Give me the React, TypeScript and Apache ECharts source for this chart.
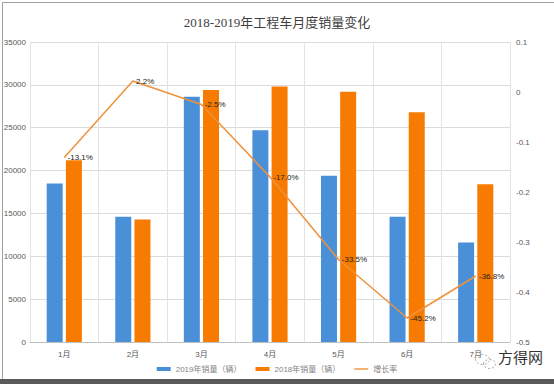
import React, { useEffect, useRef } from "react";
import * as echarts from "echarts";

const categories = ["1月", "2月", "3月", "4月", "5月", "6月", "7月"];
const sales2019 = [18500, 14600, 28600, 24700, 19400, 14600, 11600];
const sales2018 = [21200, 14300, 29400, 29800, 29200, 26800, 18400];
const growth = [-0.131, 0.022, -0.025, -0.17, -0.335, -0.452, -0.368];
const seriesNames = ["2019年销量（辆）", "2018年销量（辆）", "增长率"];
const titleText = "2018-2019年工程车月度销量变化";

export default function App() {
  const ref = useRef<HTMLDivElement>(null);
  useEffect(() => {
    if (!ref.current) return;
    const chart = echarts.init(ref.current, null, { renderer: "svg" });
    const sans = "'Liberation Sans', 'Noto Sans CJK SC', sans-serif";
    chart.setOption({
      animation: false,
      backgroundColor: "#ffffff",
      title: {
        text: titleText,
        left: "center",
        top: 11,
        textStyle: {
          fontFamily: "'Liberation Serif', 'Noto Sans CJK SC', serif",
          fontSize: 13,
          fontWeight: "normal",
          color: "#404040",
        },
      },
      legend: {
        bottom: 6,
        left: "center",
        itemWidth: 14,
        itemHeight: 4,
        itemGap: 14,
        textStyle: { fontFamily: sans, fontSize: 8, color: "#7f7f7f" },
        data: [
          { name: seriesNames[0], icon: "rect" },
          { name: seriesNames[1], icon: "rect" },
          {
            name: seriesNames[2],
            icon: "path://M0,0L20,0L20,2L0,2Z",
            itemStyle: { color: "#F0913A" },
          },
        ],
      },
      grid: { left: 30, right: 44, top: 42, bottom: 42, containLabel: false },
      xAxis: {
        type: "category",
        data: categories,
        boundaryGap: true,
        axisLine: { lineStyle: { color: "#bfbfbf" } },
        axisTick: { show: false },
        splitLine: { show: true, lineStyle: { color: "#e3e3e3" } },
        axisLabel: { fontFamily: sans, fontSize: 8, color: "#595959", margin: 8 },
      },
      yAxis: [
        {
          type: "value",
          min: 0,
          max: 35000,
          interval: 5000,
          axisLine: { show: false },
          axisTick: { show: false },
          splitLine: { lineStyle: { color: "#dcdcdc" } },
          axisLabel: {
            fontFamily: sans,
            fontSize: 8,
            color: "#595959",
            margin: 4,
            formatter: (v: number) => String(v),
          },
        },
        {
          type: "value",
          min: -0.5,
          max: 0.1,
          interval: 0.1,
          axisLine: { show: false },
          axisTick: { show: false },
          splitLine: { show: false },
          axisLabel: {
            fontFamily: sans,
            fontSize: 8,
            color: "#595959",
            margin: 6,
            formatter: (v: number) => String(Math.round(v * 10) / 10),
          },
        },
      ],
      series: [
        {
          name: seriesNames[0],
          type: "bar",
          data: sales2019,
          barWidth: 16,
          barGap: "20%",
          itemStyle: { color: "#4A90D9" },
        },
        {
          name: seriesNames[1],
          type: "bar",
          data: sales2018,
          barWidth: 16,
          itemStyle: { color: "#F77B00" },
        },
        {
          name: seriesNames[2],
          type: "line",
          yAxisIndex: 1,
          data: growth,
          symbol: "circle",
          symbolSize: 0.5,
          showSymbol: true,
          lineStyle: { color: "#F0913A", width: 1.5 },
          itemStyle: { color: "#F0913A" },
          label: {
            show: true,
            position: "right",
            distance: 3,
            fontFamily: sans,
            fontSize: 8,
            color: "#222",
            formatter: (p: any) => (p.value * 100).toFixed(1) + "%",
          },
        },
      ],
      graphic: [
        {
          type: "rect",
          left: 0,
          top: 0,
          shape: { width: 553, height: 383 },
          style: { fill: "none", stroke: "#a0a0a0", lineWidth: 1 },
          silent: true,
        },
        {
          type: "rect",
          left: 0,
          top: 379,
          shape: { width: 554, height: 5 },
          style: { fill: "#5a5a5a" },
          silent: true,
        },
        {
          type: "ellipse",
          left: 473,
          top: 352,
          shape: { cx: 0, cy: 0, rx: 7, ry: 5 },
          style: { fill: "none", stroke: "#aaa", lineWidth: 1, lineDash: [2, 2] },
          silent: true,
        },
        {
          type: "ellipse",
          left: 481,
          top: 357,
          shape: { cx: 0, cy: 0, rx: 6, ry: 4.5 },
          style: { fill: "none", stroke: "#aaa", lineWidth: 1, lineDash: [2, 2] },
          silent: true,
        },
        {
          type: "text",
          left: 498,
          top: 349,
          style: {
            text: "方得网",
            fontFamily: "'Noto Sans CJK SC', sans-serif",
            fontSize: 15,
            fill: "#333",
          },
          silent: true,
        },
      ],
    });
    return () => chart.dispose();
  }, []);
  return <div ref={ref} style={{ width: 554, height: 384, position: "absolute", left: 0, top: 0 }} />;
}
